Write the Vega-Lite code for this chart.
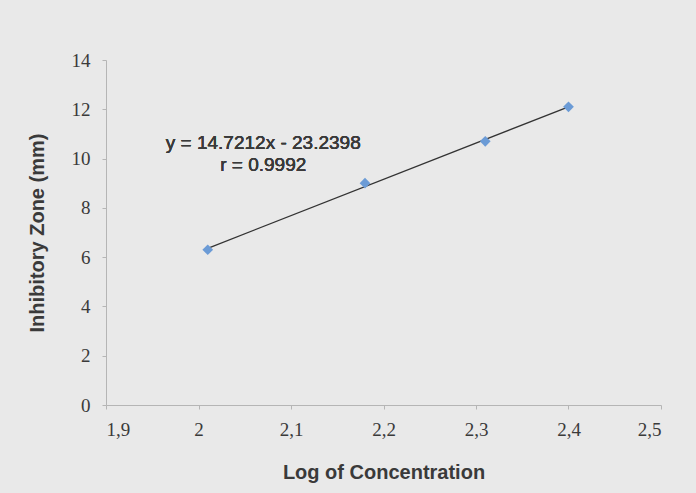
{
  "$schema": "https://vega.github.io/schema/vega-lite/v6.json",
  "autosize": {"type": "none"},
  "width": 555,
  "height": 345,
  "padding": {"left": 106, "top": 60, "right": 35, "bottom": 88},
  "background": "#e9e9e9",
  "config": {
    "view": {"stroke": null},
    "axis": {
      "grid": false,
      "domainColor": "#b5b5b5",
      "tickColor": "#b5b5b5",
      "tickSize": 4,
      "labelFont": "Liberation Serif",
      "labelFontSize": 19,
      "labelColor": "#3a3a3a",
      "titleFont": "Liberation Sans",
      "titleFontSize": 20,
      "titleFontWeight": "bold",
      "titleColor": "#3a3a3a"
    }
  },
  "data": {
    "values": [
      {"logConc": 2.01, "zone": 6.3},
      {"logConc": 2.18, "zone": 9.0},
      {"logConc": 2.31, "zone": 10.7},
      {"logConc": 2.40, "zone": 12.1}
    ]
  },
  "layer": [
    {
      "transform": [{"regression": "zone", "on": "logConc"}],
      "mark": {"type": "line", "color": "#333333", "strokeWidth": 1.3},
      "encoding": {
        "x": {"field": "logConc", "type": "quantitative"},
        "y": {"field": "zone", "type": "quantitative"}
      }
    },
    {
      "mark": {"type": "point", "shape": "diamond", "filled": true, "color": "#6b9bd6", "size": 115, "opacity": 1},
      "encoding": {
        "x": {
          "field": "logConc",
          "type": "quantitative",
          "scale": {"domain": [1.9, 2.5], "nice": false, "zero": false},
          "axis": {
            "title": "Log of Concentration",
            "values": [1.9, 2.0, 2.1, 2.2, 2.3, 2.4, 2.5],
            "labelExpr": "replace(format(datum.value, '.1~f'), '.', ',')",
            "labelPadding": 11,
            "titlePadding": 23
          }
        },
        "y": {
          "field": "zone",
          "type": "quantitative",
          "scale": {"domain": [0, 14], "nice": false},
          "axis": {
            "title": "Inhibitory Zone (mm)",
            "values": [0, 2, 4, 6, 8, 10, 12, 14],
            "labelPadding": 12,
            "titlePadding": 24
          }
        }
      }
    },
    {
      "mark": {
        "type": "text",
        "font": "Liberation Sans",
        "fontSize": 19,
        "fontWeight": "normal",
        "color": "#3a3a3a",
        "align": "center",
        "baseline": "middle",
        "lineHeight": 22
      },
      "encoding": {
        "x": {"datum": 2.07},
        "y": {"datum": 10.65},
        "text": {"value": ["y = 14.7212x - 23.2398", "r = 0.9992"]}
      }
    }
  ]
}
